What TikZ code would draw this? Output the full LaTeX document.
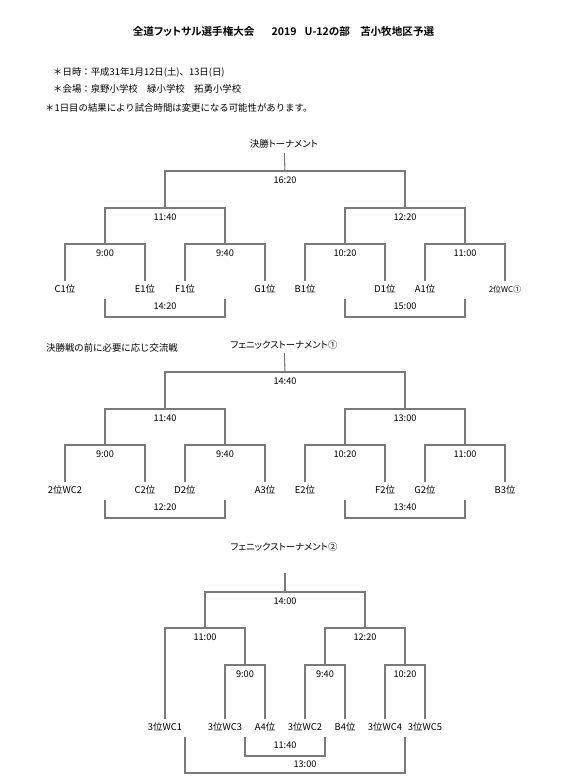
\documentclass[tikz,border=0pt]{standalone}
\usepackage{fontspec}
\setmainfont{Noto Sans CJK JP}[BoldFont={Noto Sans CJK JP Bold}]
\newfontfamily\propfont{Noto Sans CJK JP}[BoldFont={Noto Sans CJK JP Bold}, RawFeature=+palt]
\usetikzlibrary{positioning}
\definecolor{brline}{HTML}{7A7A7A}

\tikzset{
  bracket/.style={draw=brline, line width=1.1pt},
  tm/.style={font=\fontsize{9.2}{11}\selectfont, text height=8pt, text depth=2pt,
    inner xsep=0pt, inner ysep=3pt},
  team/.style={tm, font=\fontsize{9.4}{11}\selectfont},
  head/.style={font=\fontsize{9.4}{12}\selectfont, anchor=west, inner sep=0pt},
  cup/.style={tm, font=\propfont\fontsize{9.4}{11}\selectfont},
}

\begin{document}
\begin{tikzpicture}[x=1pt, y=-1pt]
  \useasboundingbox (0,0) rectangle (561,783);

  % header
  \node[font=\propfont\bfseries\fontsize{10.6}{12}\selectfont, inner sep=0pt] (title) at (283.5,31)
    {全道フットサル選手権大会\hspace{17pt}2019\hspace{8pt}U-12の部\hspace{10pt}苫小牧地区予選};
  \node[head] (date) at (53,72) {＊日時：平成31年1月12日(土)、13日(日)};
  \node[head] (venue) at (53,89) {＊会場：泉野小学校　緑小学校　拓勇小学校};
  \node[head] (note) at (45,108) {＊1日目の結果により試合時間は変更になる可能性があります。};

  % 決勝トーナメント
  \node[cup] (final) at (284,145) {決勝トーナメント};
  \coordinate (f0) at (285,171);
  \coordinate (f1) at (165,208);
  \coordinate (f2) at (405,208);
  \coordinate (f11) at (105,244);
  \coordinate (f12) at (225,244);
  \coordinate (f21) at (345,244);
  \coordinate (f22) at (465,244);
  \foreach \x/\n/\t in {65/c1/C1位, 145/e1/E1位, 185/f1t/F1位, 265/g1/G1位,
                        305/b1/B1位, 385/d1/D1位, 425/a1/A1位}
    \node[team] (\n) at (\x,289) {\t};
  \node[team, font=\fontsize{8}{10}\selectfont] (wc1) at (505,289) {2位WC①};
  \draw[bracket] (final) -- (f0);
  \draw[bracket] (f1) |- (f0) -| (f2);
  \draw[bracket] (f11) |- (f1) -| (f12);
  \draw[bracket] (f21) |- (f2) -| (f22);
  \draw[bracket] (c1) |- (f11) -| (e1);
  \draw[bracket] (f1t) |- (f12) -| (g1);
  \draw[bracket] (b1) |- (f21) -| (d1);
  \draw[bracket] (a1) |- (f22) -| (wc1);
  \node[tm, below=1.5pt of f0] {16:20};
  \node[tm, below=1.5pt of f1] {11:40};
  \node[tm, below=1.5pt of f2] {12:20};
  \node[tm, below=1.5pt of f11] {9:00};
  \node[tm, below=1.5pt of f12] {9:40};
  \node[tm, below=1.5pt of f21] {10:20};
  \node[tm, below=1.5pt of f22] {11:00};
  % 順位決定
  \coordinate (x1a) at (105,299);
  \coordinate (x1b) at (225,299);
  \coordinate (x2a) at (345,299);
  \coordinate (x2b) at (465,299);
  \coordinate (y1) at (165,317);
  \coordinate (y2) at (405,317);
  \draw[bracket] (x1a) |- (y1) -| (x1b);
  \draw[bracket] (x2a) |- (y2) -| (x2b);
  \node[tm, above=2pt of y1] {14:20};
  \node[tm, above=2pt of y2] {15:00};

  % フェニックストーナメント①
  \node[head] (exch) at (46,348) {決勝戦の前に必要に応じ交流戦};
  \node[cup] (phx1) at (284,345) {フェニックストーナメント①};
  \coordinate (p0) at (285,372);
  \coordinate (p1) at (165,409);
  \coordinate (p2) at (405,409);
  \coordinate (p11) at (105,445);
  \coordinate (p12) at (225,445);
  \coordinate (p21) at (345,445);
  \coordinate (p22) at (465,445);
  \foreach \x/\n/\t in {65/wc2/2位WC2, 145/c2/C2位, 185/d2/D2位, 265/a3/A3位,
                        305/e2/E2位, 385/f2t/F2位, 425/g2/G2位, 505/b3/B3位}
    \node[team] (\n) at (\x,490) {\t};
  \draw[bracket] (phx1) -- (p0);
  \draw[bracket] (p1) |- (p0) -| (p2);
  \draw[bracket] (p11) |- (p1) -| (p12);
  \draw[bracket] (p21) |- (p2) -| (p22);
  \draw[bracket] (wc2) |- (p11) -| (c2);
  \draw[bracket] (d2) |- (p12) -| (a3);
  \draw[bracket] (e2) |- (p21) -| (f2t);
  \draw[bracket] (g2) |- (p22) -| (b3);
  \node[tm, below=1.5pt of p0] {14:40};
  \node[tm, below=1.5pt of p1] {11:40};
  \node[tm, below=1.5pt of p2] {13:00};
  \node[tm, below=1.5pt of p11] {9:00};
  \node[tm, below=1.5pt of p12] {9:40};
  \node[tm, below=1.5pt of p21] {10:20};
  \node[tm, below=1.5pt of p22] {11:00};
  \coordinate (q1a) at (105,500);
  \coordinate (q1b) at (225,500);
  \coordinate (q2a) at (345,500);
  \coordinate (q2b) at (465,500);
  \coordinate (r1) at (165,518);
  \coordinate (r2) at (405,518);
  \draw[bracket] (q1a) |- (r1) -| (q1b);
  \draw[bracket] (q2a) |- (r2) -| (q2b);
  \node[tm, above=2pt of r1] {12:20};
  \node[tm, above=2pt of r2] {13:40};

  % フェニックストーナメント②
  \node[cup] (phx2) at (284,547) {フェニックストーナメント②};
  \coordinate (s3) at (285,573);
  \coordinate (h0) at (285,592);
  \coordinate (h1) at (205,628);
  \coordinate (h2) at (365,628);
  \coordinate (h12) at (245,665);
  \coordinate (h21) at (325,665);
  \coordinate (h22) at (405,665);
  \foreach \x/\n/\t in {165/w1/3位WC1, 225/w3/3位WC3, 265/a4/A4位, 305/w2/3位WC2,
                        345/b4/B4位, 385/w4/3位WC4, 425/w5/3位WC5}
    \node[team] (\n) at (\x,727) {\t};
  \draw[bracket] (s3) -- (h0);
  \draw[bracket] (h1) |- (h0) -| (h2);
  \draw[bracket] (w1) |- (h1) -| (h12);
  \draw[bracket] (h21) |- (h2) -| (h22);
  \draw[bracket] (w3) |- (h12) -| (a4);
  \draw[bracket] (w2) |- (h21) -| (b4);
  \draw[bracket] (w4) |- (h22) -| (w5);
  \node[tm, below=1.5pt of h0] {14:00};
  \node[tm, below=1pt of h1] {11:00};
  \node[tm, below=1pt of h2] {12:20};
  \node[tm, below=1pt of h12] {9:00};
  \node[tm, below=1pt of h21] {9:40};
  \node[tm, below=1pt of h22] {10:20};
  \coordinate (u1) at (245,737);
  \coordinate (u2) at (325,737);
  \coordinate (v1) at (185,737);
  \coordinate (v2) at (405,737);
  \coordinate (u0) at (285,756);
  \coordinate (v0) at (295,773);
  \draw[bracket] (u1) |- (u0) -| (u2);
  \draw[bracket] (v1) |- (v0) -| (v2);
  \node[tm, above=2pt of u0] {11:40};
  \node[tm] at (305,764.5) {13:00};
\end{tikzpicture}
\end{document}
